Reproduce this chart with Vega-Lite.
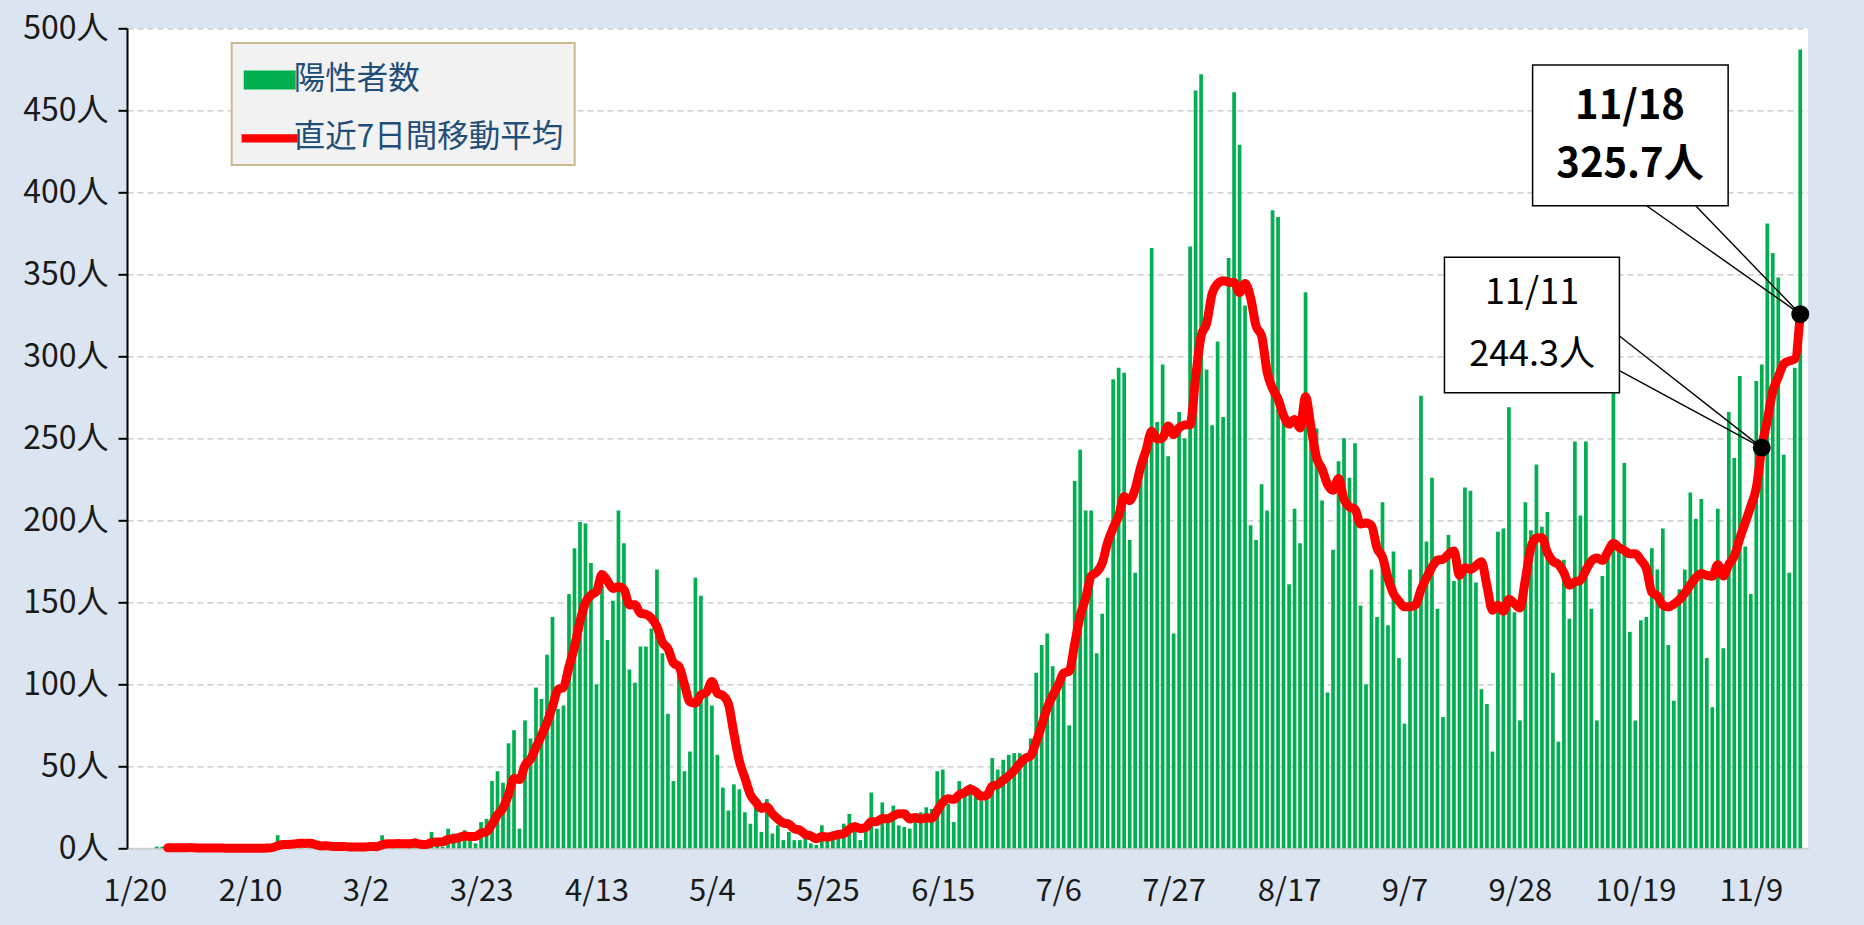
{
  "$schema": "https://vega.github.io/schema/vega-lite/v6.json",
  "width": 1681,
  "height": 820,
  "autosize": {"type": "none"},
  "padding": {"left": 127, "top": 28.3, "right": 56, "bottom": 76.7},
  "background": "#dbe5f1",
  "view": {"fill": "white", "stroke": null},
  "config": {"font": "Noto Sans CJK JP"},
  "datasets": {
    "daily": [
      {"date":"2020-01-20","n":0},{"date":"2020-01-21","n":0},{"date":"2020-01-22","n":0},{"date":"2020-01-23","n":0},{"date":"2020-01-24","n":1},{"date":"2020-01-25","n":1},{"date":"2020-01-26","n":0},{"date":"2020-01-27","n":0},{"date":"2020-01-28","n":0},{"date":"2020-01-29","n":0},{"date":"2020-01-30","n":1},{"date":"2020-01-31","n":0},
      {"date":"2020-02-01","n":0},{"date":"2020-02-02","n":0},{"date":"2020-02-03","n":0},{"date":"2020-02-04","n":0},{"date":"2020-02-05","n":0},{"date":"2020-02-06","n":0},{"date":"2020-02-07","n":0},{"date":"2020-02-08","n":0},{"date":"2020-02-09","n":0},{"date":"2020-02-10","n":0},{"date":"2020-02-11","n":0},{"date":"2020-02-12","n":0},{"date":"2020-02-13","n":1},{"date":"2020-02-14","n":2},{"date":"2020-02-15","n":8},{"date":"2020-02-16","n":5},{"date":"2020-02-17","n":0},{"date":"2020-02-18","n":3},{"date":"2020-02-19","n":3},{"date":"2020-02-20","n":0},{"date":"2020-02-21","n":3},{"date":"2020-02-22","n":1},{"date":"2020-02-23","n":0},{"date":"2020-02-24","n":1},{"date":"2020-02-25","n":0},{"date":"2020-02-26","n":3},{"date":"2020-02-27","n":0},{"date":"2020-02-28","n":1},{"date":"2020-02-29","n":1},
      {"date":"2020-03-01","n":0},{"date":"2020-03-02","n":1},{"date":"2020-03-03","n":2},{"date":"2020-03-04","n":2},{"date":"2020-03-05","n":8},{"date":"2020-03-06","n":5},{"date":"2020-03-07","n":1},{"date":"2020-03-08","n":1},{"date":"2020-03-09","n":0},{"date":"2020-03-10","n":2},{"date":"2020-03-11","n":6},{"date":"2020-03-12","n":2},{"date":"2020-03-13","n":4},{"date":"2020-03-14","n":10},{"date":"2020-03-15","n":3},{"date":"2020-03-16","n":1},{"date":"2020-03-17","n":12},{"date":"2020-03-18","n":9},{"date":"2020-03-19","n":7},{"date":"2020-03-20","n":11},{"date":"2020-03-21","n":7},{"date":"2020-03-22","n":3},{"date":"2020-03-23","n":16},{"date":"2020-03-24","n":18},{"date":"2020-03-25","n":41},{"date":"2020-03-26","n":47},{"date":"2020-03-27","n":40},{"date":"2020-03-28","n":64},{"date":"2020-03-29","n":72},{"date":"2020-03-30","n":12},{"date":"2020-03-31","n":78},
      {"date":"2020-04-01","n":67},{"date":"2020-04-02","n":98},{"date":"2020-04-03","n":91},{"date":"2020-04-04","n":118},{"date":"2020-04-05","n":141},{"date":"2020-04-06","n":85},{"date":"2020-04-07","n":87},{"date":"2020-04-08","n":155},{"date":"2020-04-09","n":183},{"date":"2020-04-10","n":199},{"date":"2020-04-11","n":198},{"date":"2020-04-12","n":174},{"date":"2020-04-13","n":100},{"date":"2020-04-14","n":160},{"date":"2020-04-15","n":127},{"date":"2020-04-16","n":151},{"date":"2020-04-17","n":206},{"date":"2020-04-18","n":186},{"date":"2020-04-19","n":109},{"date":"2020-04-20","n":101},{"date":"2020-04-21","n":123},{"date":"2020-04-22","n":123},{"date":"2020-04-23","n":134},{"date":"2020-04-24","n":170},{"date":"2020-04-25","n":119},{"date":"2020-04-26","n":82},{"date":"2020-04-27","n":41},{"date":"2020-04-28","n":107},{"date":"2020-04-29","n":47},{"date":"2020-04-30","n":59},
      {"date":"2020-05-01","n":165},{"date":"2020-05-02","n":154},{"date":"2020-05-03","n":93},{"date":"2020-05-04","n":87},{"date":"2020-05-05","n":57},{"date":"2020-05-06","n":37},{"date":"2020-05-07","n":23},{"date":"2020-05-08","n":39},{"date":"2020-05-09","n":36},{"date":"2020-05-10","n":22},{"date":"2020-05-11","n":15},{"date":"2020-05-12","n":25},{"date":"2020-05-13","n":10},{"date":"2020-05-14","n":30},{"date":"2020-05-15","n":9},{"date":"2020-05-16","n":14},{"date":"2020-05-17","n":5},{"date":"2020-05-18","n":10},{"date":"2020-05-19","n":5},{"date":"2020-05-20","n":5},{"date":"2020-05-21","n":11},{"date":"2020-05-22","n":3},{"date":"2020-05-23","n":2},{"date":"2020-05-24","n":14},{"date":"2020-05-25","n":8},{"date":"2020-05-26","n":10},{"date":"2020-05-27","n":11},{"date":"2020-05-28","n":15},{"date":"2020-05-29","n":21},{"date":"2020-05-30","n":14},{"date":"2020-05-31","n":5},
      {"date":"2020-06-01","n":13},{"date":"2020-06-02","n":34},{"date":"2020-06-03","n":12},{"date":"2020-06-04","n":28},{"date":"2020-06-05","n":20},{"date":"2020-06-06","n":26},{"date":"2020-06-07","n":14},{"date":"2020-06-08","n":13},{"date":"2020-06-09","n":12},{"date":"2020-06-10","n":18},{"date":"2020-06-11","n":22},{"date":"2020-06-12","n":25},{"date":"2020-06-13","n":24},{"date":"2020-06-14","n":47},{"date":"2020-06-15","n":48},{"date":"2020-06-16","n":27},{"date":"2020-06-17","n":16},{"date":"2020-06-18","n":41},{"date":"2020-06-19","n":35},{"date":"2020-06-20","n":39},{"date":"2020-06-21","n":35},{"date":"2020-06-22","n":29},{"date":"2020-06-23","n":31},{"date":"2020-06-24","n":55},{"date":"2020-06-25","n":48},{"date":"2020-06-26","n":54},{"date":"2020-06-27","n":57},{"date":"2020-06-28","n":58},{"date":"2020-06-29","n":58},{"date":"2020-06-30","n":54},
      {"date":"2020-07-01","n":67},{"date":"2020-07-02","n":107},{"date":"2020-07-03","n":124},{"date":"2020-07-04","n":131},{"date":"2020-07-05","n":111},{"date":"2020-07-06","n":102},{"date":"2020-07-07","n":106},{"date":"2020-07-08","n":75},{"date":"2020-07-09","n":224},{"date":"2020-07-10","n":243},{"date":"2020-07-11","n":206},{"date":"2020-07-12","n":206},{"date":"2020-07-13","n":119},{"date":"2020-07-14","n":143},{"date":"2020-07-15","n":165},{"date":"2020-07-16","n":286},{"date":"2020-07-17","n":293},{"date":"2020-07-18","n":290},{"date":"2020-07-19","n":188},{"date":"2020-07-20","n":168},{"date":"2020-07-21","n":237},{"date":"2020-07-22","n":238},{"date":"2020-07-23","n":366},{"date":"2020-07-24","n":260},{"date":"2020-07-25","n":295},{"date":"2020-07-26","n":239},{"date":"2020-07-27","n":131},{"date":"2020-07-28","n":266},{"date":"2020-07-29","n":250},{"date":"2020-07-30","n":367},{"date":"2020-07-31","n":462},
      {"date":"2020-08-01","n":472},{"date":"2020-08-02","n":292},{"date":"2020-08-03","n":258},{"date":"2020-08-04","n":309},{"date":"2020-08-05","n":263},{"date":"2020-08-06","n":360},{"date":"2020-08-07","n":461},{"date":"2020-08-08","n":429},{"date":"2020-08-09","n":331},{"date":"2020-08-10","n":197},{"date":"2020-08-11","n":188},{"date":"2020-08-12","n":222},{"date":"2020-08-13","n":206},{"date":"2020-08-14","n":389},{"date":"2020-08-15","n":385},{"date":"2020-08-16","n":260},{"date":"2020-08-17","n":161},{"date":"2020-08-18","n":207},{"date":"2020-08-19","n":186},{"date":"2020-08-20","n":339},{"date":"2020-08-21","n":258},{"date":"2020-08-22","n":256},{"date":"2020-08-23","n":212},{"date":"2020-08-24","n":95},{"date":"2020-08-25","n":182},{"date":"2020-08-26","n":236},{"date":"2020-08-27","n":250},{"date":"2020-08-28","n":226},{"date":"2020-08-29","n":247},{"date":"2020-08-30","n":148},{"date":"2020-08-31","n":100},
      {"date":"2020-09-01","n":170},{"date":"2020-09-02","n":141},{"date":"2020-09-03","n":211},{"date":"2020-09-04","n":136},{"date":"2020-09-05","n":181},{"date":"2020-09-06","n":116},{"date":"2020-09-07","n":76},{"date":"2020-09-08","n":170},{"date":"2020-09-09","n":149},{"date":"2020-09-10","n":276},{"date":"2020-09-11","n":187},{"date":"2020-09-12","n":226},{"date":"2020-09-13","n":146},{"date":"2020-09-14","n":80},{"date":"2020-09-15","n":191},{"date":"2020-09-16","n":163},{"date":"2020-09-17","n":172},{"date":"2020-09-18","n":220},{"date":"2020-09-19","n":218},{"date":"2020-09-20","n":162},{"date":"2020-09-21","n":97},{"date":"2020-09-22","n":88},{"date":"2020-09-23","n":59},{"date":"2020-09-24","n":193},{"date":"2020-09-25","n":195},{"date":"2020-09-26","n":269},{"date":"2020-09-27","n":144},{"date":"2020-09-28","n":78},{"date":"2020-09-29","n":211},{"date":"2020-09-30","n":194},
      {"date":"2020-10-01","n":234},{"date":"2020-10-02","n":196},{"date":"2020-10-03","n":205},{"date":"2020-10-04","n":107},{"date":"2020-10-05","n":65},{"date":"2020-10-06","n":176},{"date":"2020-10-07","n":140},{"date":"2020-10-08","n":248},{"date":"2020-10-09","n":203},{"date":"2020-10-10","n":248},{"date":"2020-10-11","n":146},{"date":"2020-10-12","n":78},{"date":"2020-10-13","n":166},{"date":"2020-10-14","n":177},{"date":"2020-10-15","n":284},{"date":"2020-10-16","n":185},{"date":"2020-10-17","n":235},{"date":"2020-10-18","n":132},{"date":"2020-10-19","n":78},{"date":"2020-10-20","n":139},{"date":"2020-10-21","n":141},{"date":"2020-10-22","n":183},{"date":"2020-10-23","n":170},{"date":"2020-10-24","n":195},{"date":"2020-10-25","n":124},{"date":"2020-10-26","n":90},{"date":"2020-10-27","n":158},{"date":"2020-10-28","n":170},{"date":"2020-10-29","n":217},{"date":"2020-10-30","n":201},{"date":"2020-10-31","n":213},
      {"date":"2020-11-01","n":116},{"date":"2020-11-02","n":86},{"date":"2020-11-03","n":207},{"date":"2020-11-04","n":122},{"date":"2020-11-05","n":266},{"date":"2020-11-06","n":238},{"date":"2020-11-07","n":288},{"date":"2020-11-08","n":184},{"date":"2020-11-09","n":155},{"date":"2020-11-10","n":285},{"date":"2020-11-11","n":295},{"date":"2020-11-12","n":381},{"date":"2020-11-13","n":363},{"date":"2020-11-14","n":348},{"date":"2020-11-15","n":240},{"date":"2020-11-16","n":168},{"date":"2020-11-17","n":293},{"date":"2020-11-18","n":487}
    ],
    "marked": [
      {"date":"2020-11-11","avg":244.3},
      {"date":"2020-11-18","avg":325.7}
    ]
  },
  "data": {"name": "daily"},
  "encoding": {
    "y": {
      "type": "quantitative", "title": null,
      "scale": {"domain": [0, 500], "nice": false},
      "axis": {
        "values": [0,50,100,150,200,250,300,350,400,450,500],
        "labelExpr": "datum.value + '人'",
        "labelFontSize": 32, "labelColor": "#1a1a1a", "labelPadding": 10,
        "ticks": true, "tickColor": "#000000", "tickSize": 9, "tickWidth": 2,
        "domainColor": "#000000", "domainWidth": 2,
        "grid": true, "gridColor": "#c4c4c4", "gridDash": [6, 4], "gridWidth": 1.3
      }
    }
  },
  "layer": [
    {
      "mark": {"type": "bar", "size": 3.7},
      "encoding": {
        "x": {
          "field": "date", "type": "temporal", "title": null,
          "scale": {"type": "utc", "domain": [1579435200000, 1605700800000]},
          "axis": {
            "values": [1579478400000,1581292800000,1583107200000,1584921600000,1586736000000,1588550400000,1590364800000,1592179200000,1593993600000,1595808000000,1597622400000,1599436800000,1601251200000,1603065600000,1604880000000],
            "labelExpr": "utcFormat(datum.value, '%-m/%-d')",
            "labelFontSize": 31, "labelColor": "#1a1a1a", "labelPadding": 28, "labelFlush": false, "labelOverlap": false,
            "ticks": false, "grid": false,
            "domainColor": "#d0d0d0", "domainWidth": 2
          }
        },
        "y": {"field": "n", "type": "quantitative"},
        "color": {
          "datum": "陽性者数",
          "scale": {"domain": ["陽性者数", "直近7日間移動平均"], "range": ["#00b050", "#ff0000"]},
          "legend": {
            "title": null, "orient": "none", "legendX": 104.7, "legendY": 14.7,
            "fillColor": "#f2f2f2", "strokeColor": "#c8bb8f", "padding": 11, "rowPadding": 16.4,
            "symbolSize": 2704, "symbolOffset": 1, "labelOffset": -2, "labelLimit": 500,
            "labelFont": "Noto Sans CJK JP", "labelFontSize": 31.5, "labelColor": "#1f4e79",
            "encode": {
              "legend": {"update": {"strokeWidth": {"value": 2}}},
              "symbols": {
                "update": {
                  "size": {"value": 2704},
                  "shape": {"signal": "datum.value === '陽性者数' ? 'M-1,-0.365H1V0.365H-1Z' : 'M-1.08,-0.155H1.08V0.155H-1.08Z'"},
                  "fill": {"signal": "datum.value === '陽性者数' ? '#00b050' : '#ff0000'"},
                  "strokeWidth": {"value": 0},
                  "opacity": {"value": 1},
                  "fillOpacity": {"value": 1}
                }
              }
            }
          }
        }
      }
    },
    {
      "transform": [
        {"window": [{"op": "mean", "field": "n", "as": "avg"}, {"op": "count", "as": "cnt"}], "frame": [-6, 0], "sort": [{"field": "date"}]},
        {"filter": "datum.cnt === 7"}
      ],
      "mark": {"type": "line", "strokeWidth": 9, "strokeCap": "round", "strokeJoin": "round", "interpolate": "monotone"},
      "encoding": {
        "x": {"field": "date", "type": "temporal"},
        "y": {"field": "avg", "type": "quantitative"},
        "color": {"datum": "直近7日間移動平均"}
      }
    },
    {
      "data": {"values": [{}]},
      "mark": {"type": "rule", "color": "#000000", "strokeWidth": 1.4},
      "encoding": {
        "x": {"datum": {"year": 2020, "month": 10, "date": 21, "hours": 1, "minutes": 12, "utc": true}, "type": "temporal"},
        "x2": {"datum": {"year": 2020, "month": 11, "date": 18, "utc": true}},
        "y": {"datum": 391.8, "type": "quantitative"},
        "y2": {"datum": 325.7}
      }
    },
    {
      "data": {"values": [{}]},
      "mark": {"type": "rule", "color": "#000000", "strokeWidth": 1.4},
      "encoding": {
        "x": {"datum": {"year": 2020, "month": 10, "date": 29, "hours": 23, "minutes": 17, "utc": true}, "type": "temporal"},
        "x2": {"datum": {"year": 2020, "month": 11, "date": 18, "utc": true}},
        "y": {"datum": 391.8, "type": "quantitative"},
        "y2": {"datum": 325.7}
      }
    },
    {
      "data": {"values": [{}]},
      "mark": {"type": "rule", "color": "#000000", "strokeWidth": 1.4},
      "encoding": {
        "x": {"datum": {"year": 2020, "month": 10, "date": 16, "hours": 2, "minutes": 24, "utc": true}, "type": "temporal"},
        "x2": {"datum": {"year": 2020, "month": 11, "date": 11, "utc": true}},
        "y": {"datum": 312.4, "type": "quantitative"},
        "y2": {"datum": 244.3}
      }
    },
    {
      "data": {"values": [{}]},
      "mark": {"type": "rule", "color": "#000000", "strokeWidth": 1.4},
      "encoding": {
        "x": {"datum": {"year": 2020, "month": 10, "date": 16, "hours": 2, "minutes": 24, "utc": true}, "type": "temporal"},
        "x2": {"datum": {"year": 2020, "month": 11, "date": 11, "utc": true}},
        "y": {"datum": 291.2, "type": "quantitative"},
        "y2": {"datum": 244.3}
      }
    },
    {
      "data": {"values": [{}]},
      "mark": {"type": "rect", "fill": "#ffffff", "stroke": "#000000", "strokeWidth": 1.5},
      "encoding": {
        "x": {"datum": {"year": 2020, "month": 9, "date": 30, "hours": 7, "minutes": 26, "utc": true}, "type": "temporal"},
        "x2": {"datum": {"year": 2020, "month": 11, "date": 4, "hours": 21, "minutes": 7, "utc": true}},
        "y": {"datum": 477.6, "type": "quantitative"},
        "y2": {"datum": 391.8}
      }
    },
    {
      "data": {"values": [{}]},
      "mark": {"type": "rect", "fill": "#ffffff", "stroke": "#000000", "strokeWidth": 1.5},
      "encoding": {
        "x": {"datum": {"year": 2020, "month": 9, "date": 14, "hours": 6, "minutes": 29, "utc": true}, "type": "temporal"},
        "x2": {"datum": {"year": 2020, "month": 10, "date": 16, "hours": 2, "minutes": 24, "utc": true}},
        "y": {"datum": 360.4, "type": "quantitative"},
        "y2": {"datum": 277.8}
      }
    },
    {
      "data": {"values": [{}]},
      "mark": {"type": "text", "text": ["11/18", "325.7人"], "fontSize": 40, "fontWeight": "bold", "lineHeight": 58, "align": "center", "baseline": "middle", "color": "#000000"},
      "encoding": {
        "x": {"datum": {"year": 2020, "month": 10, "date": 18, "hours": 0, "minutes": 43, "utc": true}, "type": "temporal"},
        "y": {"datum": 452.2, "type": "quantitative"}
      }
    },
    {
      "data": {"values": [{}]},
      "mark": {"type": "text", "text": ["11/11", "244.3人"], "fontSize": 36, "lineHeight": 61.5, "align": "center", "baseline": "middle", "color": "#000000"},
      "encoding": {
        "x": {"datum": {"year": 2020, "month": 9, "date": 30, "hours": 5, "minutes": 17, "utc": true}, "type": "temporal"},
        "y": {"datum": 338.4, "type": "quantitative"}
      }
    },
    {
      "data": {"name": "marked"},
      "mark": {"type": "point", "filled": true, "color": "#000000", "size": 320, "opacity": 1},
      "encoding": {
        "x": {"field": "date", "type": "temporal"},
        "y": {"field": "avg", "type": "quantitative"}
      }
    }
  ]
}
